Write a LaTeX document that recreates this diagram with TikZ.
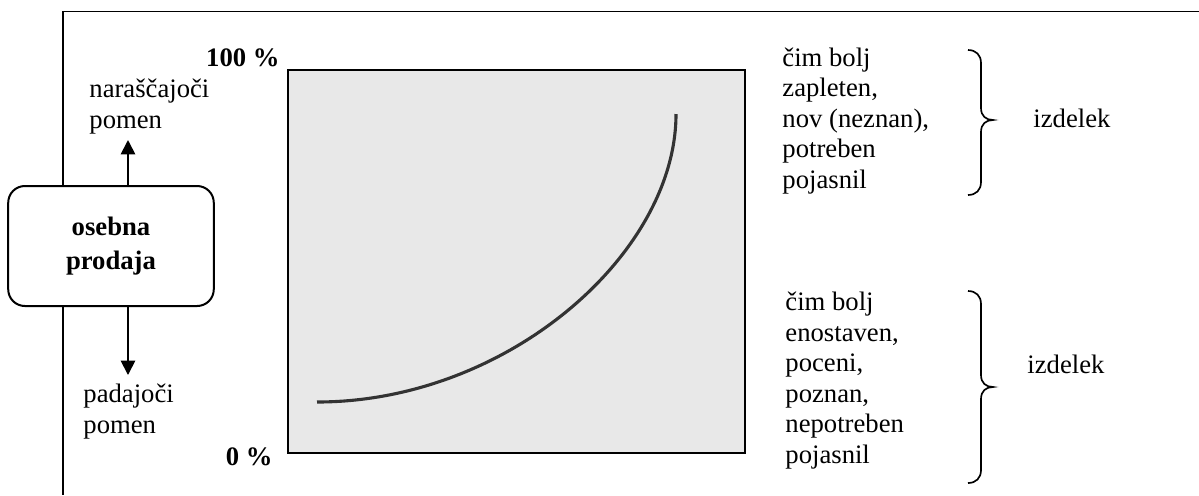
\documentclass[tikz,border=0pt]{standalone}
\usepackage{fontspec}
\setmainfont{Liberation Serif}
\usetikzlibrary{arrows.meta}
\definecolor{panel}{HTML}{E8E8E8}
\definecolor{curvegray}{HTML}{333333}

\begin{document}
\begin{tikzpicture}[x=0.45pt,y=-0.45pt,
    txt/.style={font=\fontsize{12}{13.7}\selectfont,inner sep=0pt,align=left},
    tip/.style={-{Triangle[length=6.5pt,width=6.5pt]}}]
  \useasboundingbox (0,0) rectangle (1199,495);
  % outer frame (top and left edges only)
  \draw[line width=0.7pt] (1199,11.5) -- (63,11.5) -- (63,495);
  % shaded panel with the growth curve
  \draw[fill=panel,line width=0.9pt] (288,70) rectangle (745,453);
  \draw[curvegray,line width=1.4pt] (317,402) .. controls (507,402) and (676,254) .. (676,114);
  \node[txt,font=\fontsize{12}{13.7}\selectfont\bfseries,anchor=base east] (hundred) at (280,66) {100 \%};
  \node[txt,font=\fontsize{12}{13.7}\selectfont\bfseries,anchor=base east] (zero) at (273,465) {0 \%};
  % personal selling box and its two arrows
  \node[draw,fill=white,line width=0.9pt,rounded corners=7.5pt,minimum width=92.5pt,
        minimum height=54pt,align=center,font=\fontsize{12}{15}\selectfont\bfseries] (prod) at (111,246) {osebna\\prodaja};
  \coordinate (upend) at (128,140);
  \coordinate (downend) at (128,375);
  \draw[tip,line width=0.8pt] (prod.north -| upend) -- (upend);
  \draw[tip,line width=0.8pt] (prod.south -| downend) -- (downend);
  % (base anchor of a multi-line node = baseline of its last line)
  \node[txt,anchor=base west] (rise) at (89,128) {naraščajoči\\pomen};
  \node[txt,anchor=base west] (fall) at (83,433) {padajoči\\pomen};
  % product descriptions
  \node[txt,anchor=base west] (complex) at (782,188) {čim bolj\\zapleten,\\nov (neznan),\\potreben\\pojasnil};
  \node[txt,anchor=base west] (simple) at (785,463) {čim bolj\\enostaven,\\poceni,\\poznan,\\nepotreben\\pojasnil};
  % braces
  \foreach \t/\m/\b in {50/120/195, 291/387/483}
    \draw[line width=0.75pt] (968,\t) .. controls (976,\t) and (981,\t+5) .. (981,\t+13) -- (981,\m-12)
      .. controls (981,\m-4) and (986,\m) .. (993,\m) .. controls (986,\m) and (981,\m+4) .. (981,\m+12)
      -- (981,\b-13) .. controls (981,\b-5) and (976,\b) .. (968,\b);
  \node[txt,anchor=base west] (prodA) at (1033,127) {izdelek};
  \node[txt,anchor=base west] (prodB) at (1027,373) {izdelek};
\end{tikzpicture}
\end{document}
